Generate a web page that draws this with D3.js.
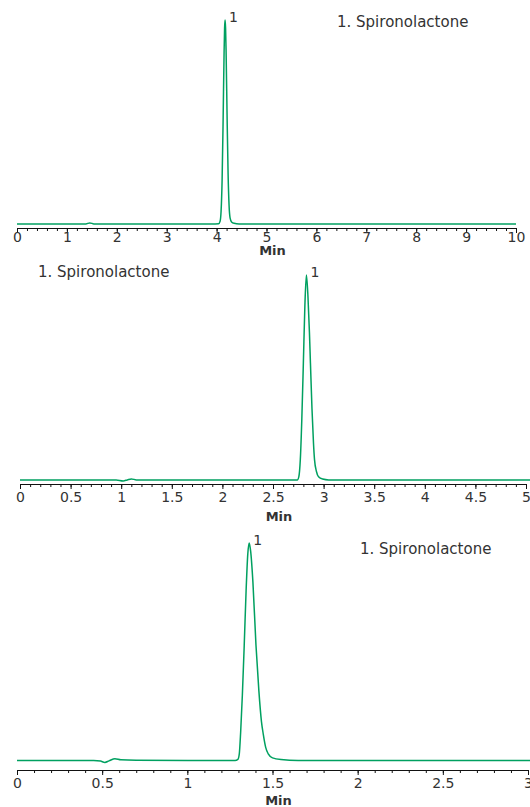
<!DOCTYPE html>
<html>
<head>
<meta charset="utf-8">
<script src="https://cdn.jsdelivr.net/npm/d3@7"></script>
<style>
  html, body { margin: 0; padding: 0; background: #fff; }
  svg { display: block; }
  text { font-family: "DejaVu Sans", Verdana, sans-serif; fill: #333; }
</style>
</head>
<body>
<svg id="chart" width="530" height="807"></svg>
<script>
// ---------- data ----------
const compoundLabel = "1. Spironolactone";
const peakLabel = "1";
const axisTitle = "Min";

// Panel 1: 0-10 min
const p1Ticks = [0, 1, 2, 3, 4, 5, 6, 7, 8, 9, 10];
const p1Time =   [0, 0.5, 1.0, 1.38, 1.46, 1.54, 2.0, 3.0, 3.9, 4.04, 4.07, 4.09, 4.11, 4.13, 4.15, 4.16, 4.17, 4.18, 4.19, 4.21, 4.23, 4.25, 4.27, 4.30, 4.35, 4.45, 5, 6, 7, 8, 9, 10];
const p1Signal = [0, 0,   0,   0,    0.5,  0,    0,   0,   0,   0.1,  1.3,  6.3,  21,   50,   84,   96,   100,  96,   85,   53,   25,   9,    3,    1,    0.3,  0,    0, 0, 0, 0, 0, 0];

// Panel 2: 0-5 min
const p2Ticks = [0, 0.5, 1, 1.5, 2, 2.5, 3, 3.5, 4, 4.5, 5];
const p2Time =   [0, 0.5, 0.95, 1.02, 1.06, 1.10, 1.15, 1.5, 2.0, 2.5, 2.74, 2.755, 2.77, 2.785, 2.80, 2.815, 2.83, 2.845, 2.86, 2.87, 2.885, 2.90, 2.91, 2.93, 2.95, 2.99, 3.05, 3.5, 4.0, 4.5, 5.04];
const p2Signal = [0, 0,   0,    -0.5, 0,    0.5,  0,    0,   0,   0,   0,    1.5,   10,   30,    57,   85,    100,  90,    72,   57,   35,    18,   10,   4,    1.5,  0.4,  0,    0,   0,   0,   0];

// Panel 3: 0-3 min
const p3Ticks = [0, 0.5, 1, 1.5, 2, 2.5, 3];
const p3Time =   [0, 0.3, 0.45, 0.49, 0.516, 0.54, 0.575, 0.61, 0.7, 1.0, 1.28, 1.297, 1.305, 1.313, 1.323, 1.334, 1.345, 1.355, 1.363, 1.372, 1.385, 1.403, 1.42, 1.435, 1.446, 1.46, 1.475, 1.50, 1.55, 1.65, 2.0, 2.5, 3.02];
const p3Signal = [0, 0,   0,    -0.3, -0.9,  -0.2, 0.8,   0.3,  0.1, 0,   0,    0.5,   3,     13,    30,    53,    78,    95,    100,   96,    82,    53,    32,   18,    12,    6,    3,     1.2,  0.4,  0,    0,   0,   0];

// ---------- layout ----------
const panels = [
  { time: p1Time, signal: p1Signal, ticks: p1Ticks, minorStep: 0.2, xDom: [0, 10], xRange: [17, 516],
    axisY: 228, top: 20, yDom: [-2, 100], tickFont: 14, tickPad: -1, titleDy: 27,
    labelX: 337, labelY: 27 },
  { time: p2Time, signal: p2Signal, ticks: p2Ticks, minorStep: 0.1, xDom: [0, 5], xRange: [20, 526],
    axisY: 484, top: 275, yDom: [-2, 100], tickFont: 14, tickPad: 3, titleDy: 37,
    labelX: 38, labelY: 277 },
  { time: p3Time, signal: p3Signal, ticks: p3Ticks, minorStep: 0.1, xDom: [0, 3], xRange: [17, 528],
    axisY: 770, top: 543, yDom: [-4.4, 100], tickFont: 14, tickPad: 3.5, titleDy: 35,
    labelX: 360, labelY: 554 }
];

const svg = d3.select("#chart");
const green = "#00a060";

panels.forEach(p => {
  const x = d3.scaleLinear().domain(p.xDom).range(p.xRange);
  const y = d3.scaleLinear().domain(p.yDom).range([p.axisY, p.top]);
  const g = svg.append("g");

  // minor ticks
  const nMinor = Math.round((p.xDom[1] - p.xDom[0]) / p.minorStep);
  const minor = d3.range(nMinor + 1).map(i => +(p.xDom[0] + i * p.minorStep).toFixed(3));
  g.append("g")
    .attr("transform", `translate(0,${p.axisY})`)
    .call(d3.axisBottom(x).tickValues(minor).tickSize(3).tickSizeOuter(0).tickFormat(""))
    .call(a => a.selectAll("line,path").attr("stroke", "#111"));

  // major ticks
  const ax = g.append("g")
    .attr("transform", `translate(0,${p.axisY})`)
    .call(d3.axisBottom(x).tickValues(p.ticks).tickSize(5).tickSizeOuter(0).tickPadding(p.tickPad).tickFormat(d3.format("")));
  ax.selectAll("line,path").attr("stroke", "#111");
  ax.selectAll("text")
    .attr("fill", "#333")
    .style("font-family", '"DejaVu Sans", Verdana, sans-serif')
    .style("font-size", p.tickFont + "px");

  // axis title
  g.append("text")
    .attr("x", (p.xRange[0] + p.xRange[1]) / 2 + 6)
    .attr("y", p.axisY + p.titleDy)
    .attr("text-anchor", "middle")
    .style("font-size", "13px")
    .style("font-weight", "bold")
    .text(axisTitle);

  // trace
  const pts = p.time.map((t, i) => [t, p.signal[i]]);
  const line = d3.line().x(d => x(d[0])).y(d => y(d[1])).curve(d3.curveMonotoneX);
  g.append("path")
    .datum(pts)
    .attr("fill", "none")
    .attr("stroke", green)
    .attr("stroke-width", 1.5)
    .attr("d", line);

  // peak label
  const iMax = d3.maxIndex(p.signal);
  g.append("text")
    .attr("x", x(p.time[iMax]) + 4)
    .attr("y", y(p.signal[iMax]) + 2)
    .style("font-size", "14px")
    .text(peakLabel);

  // compound legend
  g.append("text")
    .attr("x", p.labelX)
    .attr("y", p.labelY)
    .style("font-size", "15px")
    .text(compoundLabel);
});
</script>
</body>
</html>
